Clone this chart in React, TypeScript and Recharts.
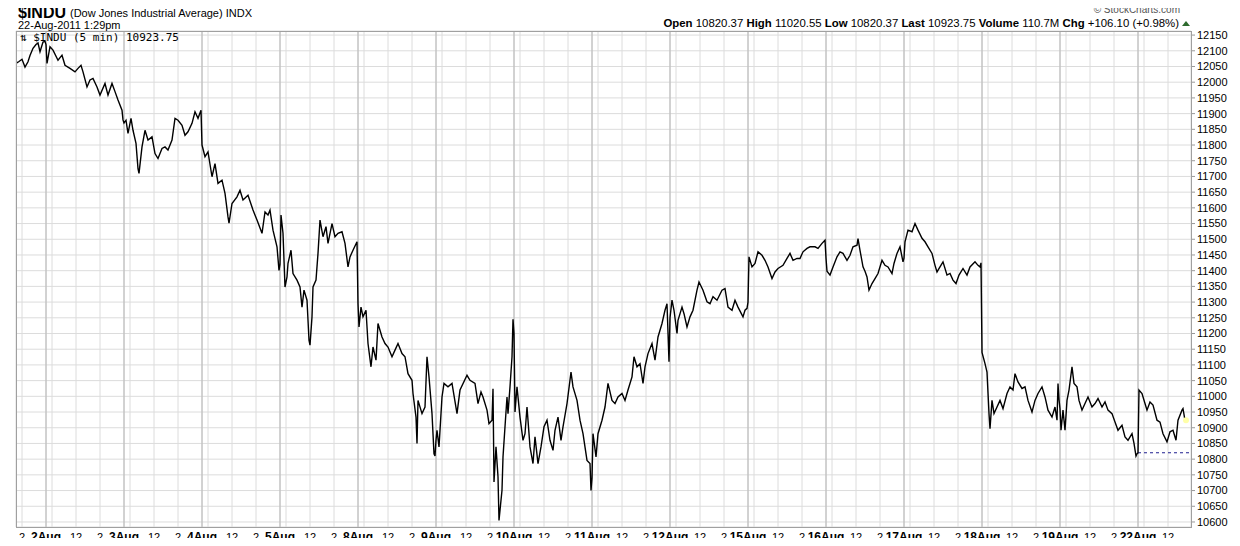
import { LineChart, Line, XAxis, YAxis, CartesianGrid, ReferenceLine, ReferenceDot } from "recharts";

// 5-minute bars, bar 0 = 9:30 open, 78 bars per session.
// Each entry: [bar of day, price].
const aug01 = [[48, 12060], [51, 12066], [54, 12073], [57, 12048], [60, 12065], [62, 12085], [65, 12108], [68, 12120], [70, 12125], [72, 12097], [75, 12128], [77, 12130]];
const aug02 = [[0, 12120], [1, 12060], [4, 12113], [7, 12102], [12, 12070], [16, 12086], [19, 12054], [24, 12044], [29, 12033], [32, 12044], [35, 12054], [37, 12033], [41, 11985], [44, 12007], [47, 12012], [51, 11985], [54, 11959], [59, 11996], [62, 11959], [66, 11996], [69, 11970], [72, 11943], [76, 11911], [77, 11880]];
const aug03 = [[0, 11870], [2, 11879], [4, 11837], [7, 11885], [9, 11847], [12, 11805], [14, 11725], [15, 11710], [18, 11794], [21, 11847], [24, 11816], [28, 11826], [31, 11773], [34, 11757], [38, 11789], [41, 11794], [44, 11784], [48, 11816], [51, 11885], [54, 11879], [58, 11863], [61, 11831], [64, 11842], [68, 11869], [71, 11906], [74, 11885], [77, 11911]];
const aug04 = [[0, 11800], [3, 11763], [6, 11778], [10, 11699], [13, 11741], [16, 11678], [20, 11688], [23, 11646], [26, 11571], [27, 11551], [30, 11614], [35, 11635], [38, 11656], [41, 11625], [46, 11640], [51, 11593], [55, 11561], [60, 11519], [63, 11587], [66, 11577], [68, 11593], [71, 11529], [75, 11476], [77, 11401]];
const aug05 = [[0, 11420], [1, 11577], [3, 11519], [5, 11348], [7, 11380], [8, 11423], [11, 11465], [13, 11391], [17, 11370], [20, 11348], [22, 11284], [24, 11338], [27, 11306], [29, 11179], [30, 11163], [32, 11253], [33, 11348], [36, 11370], [38, 11455], [40, 11561], [43, 11508], [46, 11540], [48, 11487], [52, 11550], [55, 11508], [58, 11519], [62, 11524], [65, 11487], [68, 11412], [70, 11444], [73, 11465], [77, 11492]];
const aug08 = [[0, 11295], [1, 11221], [3, 11284], [5, 11253], [8, 11274], [10, 11168], [13, 11094], [15, 11157], [18, 11115], [20, 11232], [24, 11189], [27, 11168], [30, 11157], [34, 11126], [37, 11147], [40, 11168], [44, 11136], [47, 11126], [50, 11072], [54, 11051], [55, 11009], [58, 10934], [59, 10850], [60, 10987], [64, 10945], [67, 10966], [69, 11126], [71, 11062], [74, 10945], [76, 10817], [77, 10810]];
const aug09 = [[0, 10860], [1, 10892], [3, 10839], [6, 10998], [8, 11041], [12, 11030], [16, 11041], [21, 10945], [24, 11020], [31, 11067], [34, 11051], [39, 11041], [42, 10977], [45, 11014], [47, 10998], [51, 10956], [53, 10913], [56, 10924], [57, 11024], [58, 10727], [60, 10839], [62, 10744], [63, 10605], [66, 10701], [67, 10807], [69, 10903], [71, 10998], [72, 10945], [74, 11030], [76, 11126], [77, 11245]];
const aug10 = [[0, 11200], [1, 10950], [3, 11030], [6, 10934], [9, 10860], [11, 10881], [13, 10966], [16, 10839], [19, 10786], [21, 10871], [24, 10786], [27, 10839], [30, 10903], [33, 10924], [36, 10860], [39, 10828], [41, 10892], [44, 10934], [47, 10860], [49, 10903], [53, 10977], [57, 11077], [59, 11030], [63, 10987], [66, 10924], [69, 10881], [73, 10796], [76, 10786], [77, 10700]];
const aug11 = [[0, 10740], [1, 10881], [4, 10807], [6, 10881], [10, 10924], [13, 10966], [16, 11041], [20, 10987], [23, 10977], [26, 10998], [30, 11009], [33, 10987], [36, 11020], [40, 11062], [42, 11126], [45, 11094], [48, 11104], [51, 11041], [53, 11094], [56, 11136], [60, 11168], [63, 11115], [66, 11189], [70, 11232], [73, 11274], [75, 11295], [77, 11110]];
const aug12 = [[0, 11250], [2, 11306], [4, 11274], [7, 11200], [8, 11242], [12, 11284], [14, 11263], [17, 11221], [20, 11253], [23, 11274], [27, 11338], [29, 11364], [33, 11338], [37, 11301], [40, 11295], [43, 11317], [47, 11306], [52, 11338], [55, 11343], [58, 11284], [62, 11274], [65, 11306], [68, 11284], [73, 11253], [75, 11274], [77, 11280]];
const aug15 = [[0, 11300], [1, 11444], [4, 11412], [7, 11423], [10, 11460], [14, 11449], [17, 11433], [20, 11412], [24, 11375], [27, 11396], [30, 11407], [35, 11417], [39, 11439], [42, 11455], [45, 11433], [49, 11439], [52, 11439], [55, 11460], [59, 11471], [62, 11476], [67, 11476], [70, 11471], [74, 11487], [77, 11497]];
const aug16 = [[0, 11440], [1, 11398], [4, 11386], [7, 11412], [11, 11444], [14, 11460], [17, 11455], [21, 11433], [24, 11449], [27, 11476], [31, 11481], [32, 11502], [34, 11465], [37, 11412], [39, 11398], [41, 11380], [43, 11338], [46, 11359], [49, 11375], [52, 11391], [56, 11433], [59, 11417], [62, 11412], [66, 11391], [68, 11423], [71, 11455], [74, 11476], [77, 11428]];
const aug17 = [[0, 11440], [1, 11492], [4, 11529], [8, 11524], [11, 11550], [14, 11529], [18, 11503], [21, 11492], [24, 11476], [28, 11455], [31, 11417], [33, 11396], [36, 11412], [39, 11428], [43, 11386], [46, 11391], [49, 11370], [52, 11359], [55, 11386], [59, 11407], [63, 11386], [66, 11412], [71, 11428], [74, 11417], [76, 11412], [77, 11425]];
const aug18 = [[0, 11140], [3, 11104], [5, 11077], [7, 10945], [8, 10897], [10, 10987], [12, 10945], [15, 10966], [18, 10987], [21, 10961], [25, 11009], [28, 11030], [31, 11020], [33, 11072], [36, 11046], [40, 11025], [43, 11030], [46, 10987], [50, 10950], [53, 10987], [56, 11009], [60, 11030], [63, 10998], [66, 10956], [70, 10934], [73, 10966], [75, 10924], [76, 11041], [77, 10990]];
const aug19 = [[0, 10960], [1, 10892], [3, 10956], [5, 10892], [7, 10987], [9, 11020], [12, 11094], [14, 11041], [17, 11030], [19, 10987], [22, 10956], [25, 10977], [28, 10998], [32, 10966], [35, 10977], [38, 10993], [42, 10966], [45, 10982], [48, 10956], [52, 10945], [55, 10918], [58, 10892], [62, 10908], [65, 10871], [68, 10860], [72, 10881], [74, 10850], [76, 10810], [77, 10817]];
const aug22 = [[0, 10820], [1, 11020], [4, 11009], [7, 10977], [9, 10956], [12, 10982], [15, 10972], [19, 10924], [22, 10918], [25, 10881], [29, 10855], [32, 10887], [35, 10892], [38, 10860], [40, 10924], [44, 10956], [45, 10961], [47, 10923.75]];

const days = ["1Aug", "2Aug", "3Aug", "4Aug", "5Aug", "8Aug", "9Aug", "10Aug", "11Aug", "12Aug", "15Aug", "16Aug", "17Aug", "18Aug", "19Aug", "22Aug"];
const sessions = [aug01, aug02, aug03, aug04, aug05, aug08, aug09, aug10, aug11, aug12, aug15, aug16, aug17, aug18, aug19, aug22];

// gridlines at 10:00, 12:00 and 2:00; labels only at noon and 2pm
const hourBars = [6, 30, 54];
const hourLabels = ["", "12", "2"];

const yTicks = [10600, 10650, 10700, 10750, 10800, 10850, 10900, 10950, 11000, 11050, 11100, 11150, 11200, 11250, 11300, 11350, 11400, 11450, 11500, 11550, 11600, 11650, 11700, 11750, 11800, 11850, 11900, 11950, 12000, 12050, 12100, 12150];

const openPrice = 10820.37;
const highPrice = 11020.55;
const lowPrice = 10820.37;
const lastPrice = 10923.75;
const volume = "110.7M";
const change = "+106.10 (+0.98%)";

const BARS = 78;
const FIRST_BAR = 48; // chart starts 1 Aug 13:30
const X_MAX = 1175;
const toT = (day: number, bar: number) => day * BARS + bar - FIRST_BAR;

const data = sessions.flatMap((bars, d) => bars.map(([bar, v]) => ({ t: toT(d, bar), v })));

const tickLabels = new Map<number, { label: string; bold: boolean }>();
days.forEach((name, d) => {
    tickLabels.set(toT(d, 0), { label: name, bold: true });
    hourBars.forEach((b, i) => tickLabels.set(toT(d, b), { label: hourLabels[i], bold: false }));
});
const xTicks = [...tickLabels.keys()].filter(t => t >= 0 && t <= X_MAX).sort((a, b) => a - b);
const dayStarts = days.map((_, d) => toT(d, 0)).filter(t => t >= 0);
const lastT = data[data.length - 1].t;
const lastOpenT = toT(days.length - 1, 0);

const font = "Arial, 'Liberation Sans', Helvetica, sans-serif";

function XTick(props: any) {
    const { x, y, payload } = props;
    const info = tickLabels.get(payload.value);
    if (!info || !info.label) return <g />;
    return (
        <text x={x} y={y + 14} textAnchor="middle" fontSize={info.bold ? 12 : 11} fontWeight={info.bold ? 700 : 400} fill="#000" fontFamily={font}>
            {info.label}
        </text>
    );
}

export default function App() {
    return (
        <div style={{ position: "relative", width: 1240, height: 546, margin: -8, background: "#fff", fontFamily: font }}>
            <LineChart width={1240} height={546} data={data} margin={{ top: 31, right: 0, bottom: 0, left: 16 }}>
                <CartesianGrid stroke="#dcdcdc" />
                <XAxis
                    dataKey="t"
                    type="number"
                    domain={[0, X_MAX]}
                    ticks={xTicks}
                    interval={0}
                    tick={<XTick />}
                    tickLine={false}
                    tickSize={0}
                    tickMargin={0}
                    axisLine={false}
                    height={19}
                    allowDataOverflow
                />
                <YAxis
                    orientation="right"
                    domain={[10584, 12163]}
                    ticks={yTicks}
                    interval={0}
                    width={49}
                    tickSize={4}
                    tickMargin={2}
                    tickLine={{ stroke: "#999" }}
                    axisLine={false}
                    tick={{ fill: "#000", fontSize: 11, fontFamily: font }}
                    allowDataOverflow
                />
                {dayStarts.map(t => (
                    <ReferenceLine key={t} x={t} stroke="#b6b6b6" />
                ))}
                <ReferenceLine
                    segment={[{ x: lastOpenT, y: openPrice }, { x: X_MAX, y: openPrice }]}
                    stroke="#1f1f8f"
                    strokeDasharray="3 3"
                />
                <ReferenceDot x={lastT + 1} y={lastPrice} r={3} fill="#ffffa8" stroke="none" />
                <Line type="linear" dataKey="v" stroke="#000" strokeWidth={1.4} dot={false} isAnimationActive={false} />
            </LineChart>
            <svg width={1240} height={546} style={{ position: "absolute", left: 0, top: 0, pointerEvents: "none" }} fontFamily={font}>
                <rect x={16.5} y={31.5} width={1175} height={496} fill="none" stroke="#a0a0a0" />
                <text x={18} y={18} fontSize={16} fontWeight="bold">$INDU</text>
                <text x={70} y={17} fontSize={11}>(Dow Jones Industrial Average) INDX</text>
                <text x={18} y={29} fontSize={11}>22-Aug-2011 1:29pm</text>
                <text x={1180} y={13} fontSize={10} fill="#555" textAnchor="end">© StockCharts.com</text>
                <text x={1179} y={27} fontSize={11.4} textAnchor="end">
                    <tspan fontWeight="bold">Open</tspan> {openPrice.toFixed(2)}{"  "}
                    <tspan fontWeight="bold">High</tspan> {highPrice.toFixed(2)}{"  "}
                    <tspan fontWeight="bold">Low</tspan> {lowPrice.toFixed(2)}{"  "}
                    <tspan fontWeight="bold">Last</tspan> {lastPrice.toFixed(2)}{"  "}
                    <tspan fontWeight="bold">Volume</tspan> {volume}{"  "}
                    <tspan fontWeight="bold">Chg</tspan> {change}
                </text>
                <polygon points="1182,26 1190,26 1186,21" fill="#2e6b2e" />
                <text x={20} y={41} fontSize={11} fontFamily="'DejaVu Sans Mono', monospace">⇅ $INDU (5 min) {lastPrice.toFixed(2)}</text>
            </svg>
        </div>
    );
}
